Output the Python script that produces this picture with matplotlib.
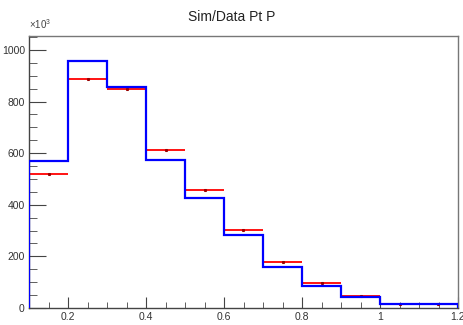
import numpy as np
import matplotlib
matplotlib.use('Agg')
import matplotlib.pyplot as plt
from matplotlib.ticker import MultipleLocator

# bin edges in Pt
edges = [0.1, 0.2, 0.3, 0.4, 0.5, 0.6, 0.7, 0.8, 0.9, 1.0, 1.1, 1.2]
# counts in units of 10^3
data_counts = [520, 886, 849, 611, 459, 304, 177, 95, 45, 17, 17]
sim_counts = [570, 958, 858, 572, 425, 283, 159, 84, 43, 14, 14]

plt.rcParams['font.family'] = ['Liberation Sans', 'DejaVu Sans']
plt.rcParams['mathtext.fontset'] = 'custom'
plt.rcParams['mathtext.rm'] = 'Liberation Sans'

fig = plt.figure(figsize=(4.64, 3.25), dpi=100)
ax = fig.add_axes([29 / 464, 1 - 308 / 325, 429 / 464, 272 / 325])

edges = np.array(edges)
centers = (edges[:-1] + edges[1:]) / 2
half = (edges[1:] - edges[:-1]) / 2

# data: horizontal bars with tiny error markers
ax.errorbar(centers, data_counts, xerr=half, yerr=np.sqrt(np.array(data_counts) * 1e3) / 1e3,
            fmt='none', ecolor='#ff0000', elinewidth=1.3, capsize=0, zorder=2)
ax.plot(centers, data_counts, 's', color='#990000', markersize=1.2, zorder=3)

# simulation: step histogram
ax.stairs(sim_counts, edges, color='#0000ff', linewidth=1.6, zorder=4)

ax.set_xlim(0.1, 1.2)
ax.set_ylim(0, 1054)
ax.xaxis.set_minor_locator(MultipleLocator(0.05))
ax.yaxis.set_major_locator(MultipleLocator(200))
ax.yaxis.set_minor_locator(MultipleLocator(50))
ax.set_xticks([0.2, 0.4, 0.6, 0.8, 1.0, 1.2])
ax.set_xticklabels(['0.2', '0.4', '0.6', '0.8', '1', '1.2'])

ax.tick_params(which='both', direction='in', top=False, right=False,
               labelsize=7.5, colors='#444444', labelcolor='#333333')
ax.tick_params(axis='y', which='major', length=12, pad=3)
ax.tick_params(axis='y', which='minor', length=6)
ax.tick_params(axis='x', which='major', length=8, pad=3)
ax.tick_params(axis='x', which='minor', length=4)
for s in ax.spines.values():
    s.set_color('#777777')
    s.set_linewidth(1)
ax.spines['left'].set_color('#444444')
ax.spines['bottom'].set_color('#444444')

fig.text(29 / 464, 1 - 31 / 325, r'$\times10^3$', fontsize=7, color='#444444', ha='left', va='bottom')
fig.text(0.5, 1 - 17 / 325, 'Sim/Data Pt P', fontsize=10, ha='center', va='center', color='#222222')

fig.savefig('out.png', dpi=100)
